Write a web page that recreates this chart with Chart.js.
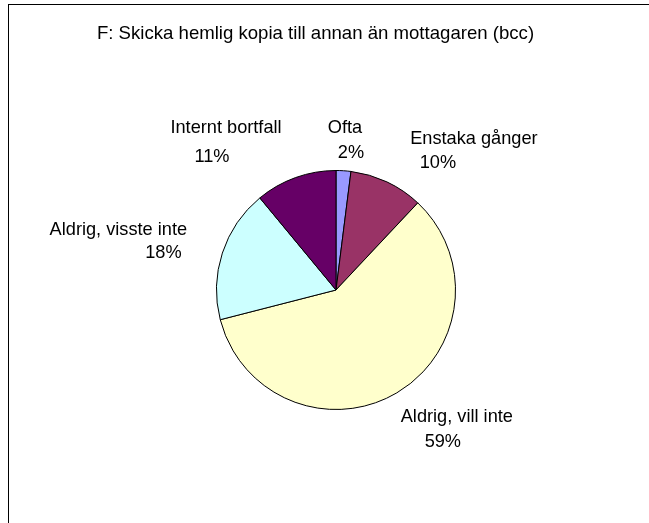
<!DOCTYPE html>
<html lang="sv">
<head>
<meta charset="UTF-8">
<title>F: Skicka hemlig kopia</title>
<script src="https://cdn.jsdelivr.net/npm/chart.js"></script>
<style>
  body { margin: 0; background: #fff; overflow: hidden; }
  .wrap { position: relative; width: 649px; height: 523px; }
  .frame { position: absolute; left: 8px; top: 4px; width: 700px; height: 600px; border: 1px solid #000; box-sizing: border-box; }
  canvas { position: absolute; left: 0; top: 0; }
</style>
</head>
<body>
<div class="wrap">
  <div class="frame"></div>
  <canvas id="pie" width="649" height="523"></canvas>
</div>
<script>
const titleText = 'F: Skicka hemlig kopia till annan än mottagaren (bcc)';
const categories = ['Ofta', 'Enstaka gånger', 'Aldrig, vill inte', 'Aldrig, visste inte', 'Internt bortfall'];
const shares = [2, 10, 59, 18, 11];
const sliceColors = ['#9999FF', '#993366', '#FFFFCC', '#CCFFFF', '#660066'];

// label line offsets from the slice's outer mid point: [name line, percent line]
const labelOffsets = [
  [[1.5, -43], [7.5, -18]],
  [[87, -43], [51, -18.5]],
  [[60, 24.5], [46, 49.5]],
  [[-104, -23], [-59, 0]],
  [[-69.5, -50], [-83.5, -20.5]]
];

const FONT = '18.2px "Liberation Sans", Arial, sans-serif';
const TITLE_FONT = '18.6px "Liberation Sans", Arial, sans-serif';

const pieLabels = {
  id: 'pieLabels',
  afterDatasetsDraw(chart) {
    const ctx = chart.ctx;
    const meta = chart.getDatasetMeta(0);
    ctx.save();
    ctx.font = FONT;
    ctx.fillStyle = '#000';
    ctx.textAlign = 'center';
    ctx.textBaseline = 'middle';
    meta.data.forEach((arc, i) => {
      const p = arc.getProps(['x', 'y', 'startAngle', 'endAngle', 'outerRadius'], true);
      const mid = (p.startAngle + p.endAngle) / 2;
      const ex = p.x + Math.cos(mid) * p.outerRadius;
      const ey = p.y + Math.sin(mid) * p.outerRadius;
      const off = labelOffsets[i];
      ctx.fillText(categories[i], ex + off[0][0], ey + off[0][1]);
      ctx.fillText(shares[i] + '%', ex + off[1][0], ey + off[1][1]);
    });
    // chart title
    ctx.font = TITLE_FONT;
    ctx.fillText(titleText, 315.5, 33.5);
    ctx.restore();
  }
};

new Chart(document.getElementById('pie'), {
  type: 'pie',
  data: {
    labels: categories,
    datasets: [{
      data: shares,
      backgroundColor: sliceColors,
      borderColor: '#000',
      borderWidth: 1
    }]
  },
  options: {
    responsive: false,
    animation: false,
    layout: { padding: { left: 216, right: 193, top: 170, bottom: 113 } },
    plugins: {
      legend: { display: false },
      tooltip: { enabled: false },
      title: { display: false }
    }
  },
  plugins: [pieLabels]
});
</script>
</body>
</html>
